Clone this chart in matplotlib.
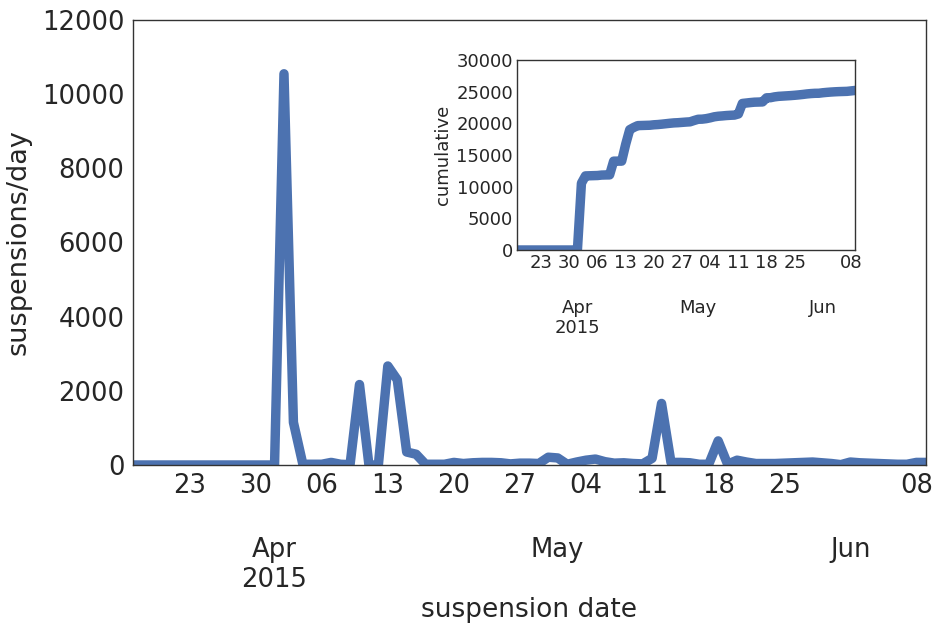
import numpy as np
import pandas as pd
import matplotlib
matplotlib.use('Agg')
import matplotlib.pyplot as plt

# daily suspensions, starting 2015-03-17
start_date = '2015-03-17'
suspensions = [
    0, 0, 0, 0, 0, 0, 0, 0, 0, 0, 0, 0, 0, 0, 0,          # Mar 17-31
    0, 10550, 1150, 20, 20, 20, 70, 20, 10, 2170,          # Apr 1-10
    0, 0, 2670, 2300, 350, 290, 20, 20, 20, 70,            # Apr 11-20
    40, 60, 70, 70, 60, 30, 50, 50, 40, 210,               # Apr 21-30
    190, 20, 80, 130, 160, 90, 50, 60, 40, 30,             # May 1-10
    180, 1660, 70, 70, 60, 20, 20, 650, 20, 130,           # May 11-20
    80, 40, 40, 40, 50, 60, 70, 80, 60, 40, 10,            # May 21-31
    80, 60, 50, 40, 30, 20, 20, 70, 70,                    # Jun 1-9
]

# weekly day labels and month labels
day_ticks = ['2015-03-23', '2015-03-30', '2015-04-06', '2015-04-13', '2015-04-20',
             '2015-04-27', '2015-05-04', '2015-05-11', '2015-05-18', '2015-05-25',
             '2015-06-08']
day_labels = ['23', '30', '06', '13', '20', '27', '04', '11', '18', '25', '08']
month_ticks = ['2015-04-01', '2015-05-01', '2015-06-01']
month_labels = ['Apr\n2015', 'May', 'Jun']

dates = pd.date_range(start_date, periods=len(suspensions), freq='D')
cumulative = np.cumsum(suspensions)

plt.rcParams['text.color'] = '.15'
plt.rcParams['axes.labelcolor'] = '.15'
plt.rcParams['xtick.color'] = '.15'
plt.rcParams['ytick.color'] = '.15'
plt.rcParams['axes.edgecolor'] = '.2'

blue = '#4C72B0'


def date_axis(a, size, pad, month_pad):
    a.set_xlim(dates[0], dates[-1])
    a.set_xticks(pd.to_datetime(day_ticks))
    a.set_xticklabels(day_labels)
    a.set_xticks(pd.to_datetime(month_ticks), minor=True)
    a.set_xticklabels(month_labels, minor=True)
    a.tick_params(axis='both', which='both', length=0, labelsize=size, pad=pad)
    a.tick_params(axis='x', which='minor', pad=month_pad)


fig = plt.figure(figsize=(9.35, 6.25), dpi=100)
ax = fig.add_axes([0.1422, 0.256, 0.848, 0.712])
ax.plot(dates, suspensions, color=blue, lw=6.8)
ax.set_ylim(0, 12000)
date_axis(ax, 18.6, 6, 51.5)
ax.set_ylabel('suspensions/day', fontsize=19.5, labelpad=8)
ax.set_xlabel('suspension date', fontsize=19, labelpad=3)
for s in ax.spines.values():
    s.set_linewidth(1.0)

ins = fig.add_axes([0.553, 0.6, 0.3615, 0.304])
ins.plot(dates, cumulative, color=blue, lw=6.8)
ins.set_ylim(0, 30000)
ins.set_yticks(np.arange(0, 30001, 5000))
date_axis(ins, 13, 3, 35)
ins.set_ylabel('cumulative', fontsize=13, labelpad=3)
for s in ins.spines.values():
    s.set_linewidth(1.0)

fig.savefig('out.png', dpi=100)
